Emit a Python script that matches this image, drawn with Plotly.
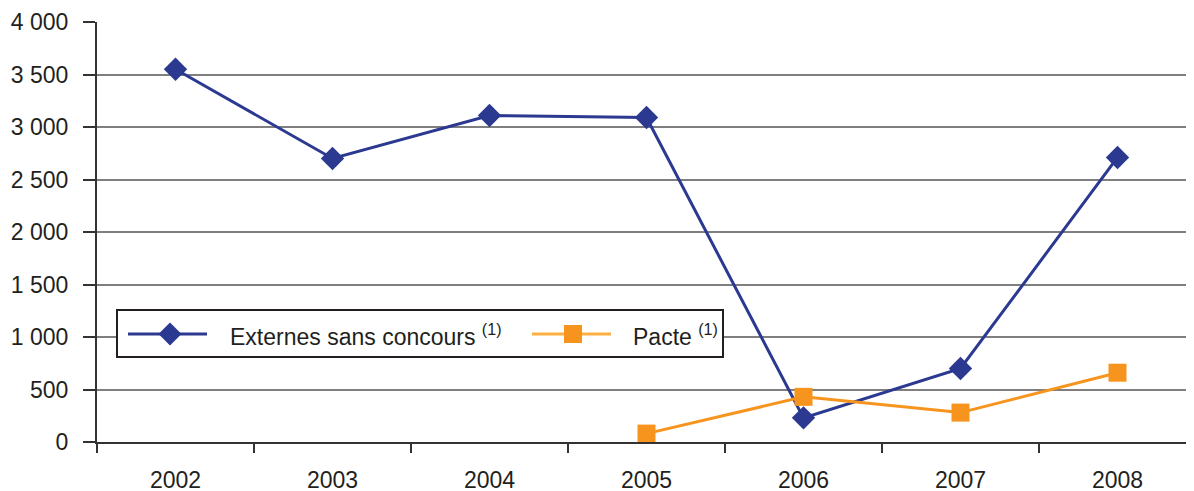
import plotly.graph_objects as go

years = ["2002", "2003", "2004", "2005", "2006", "2007", "2008"]
externes = [3550, 2700, 3110, 3090, 230, 700, 2710]
pacte_years = ["2005", "2006", "2007", "2008"]
pacte = [80, 430, 280, 660]
y_ticks = [0, 500, 1000, 1500, 2000, 2500, 3000, 3500, 4000]
y_tick_text = ["0", "500", "1 000", "1 500", "2 000", "2 500", "3 000", "3 500", "4 000"]
series_names = ["Externes sans concours", "Pacte"]

BLUE = "#2B3990"
ORANGE = "#F7941D"
ORANGE_LIGHT = "#FBB040"
TXT = "#231F20"
FS = 23

W, H = 1194, 491
OFF = 8  # page body offset
L, R, T, B = 97 - OFF, 6, 22 - OFF, 57
PW, PH = W - L - R, H - T - B
SX0, SY0 = 97, 442  # screen coords of plot origin


def px(x):
    return (x - SX0) / PW


def py(y):
    return (SY0 - y) / PH


fig = go.Figure()
fig.add_trace(go.Scatter(
    x=years, y=externes, mode="lines+markers", name=series_names[0],
    line=dict(color=BLUE, width=3),
    marker=dict(symbol="diamond", size=18, color=BLUE),
    showlegend=False,
))
fig.add_trace(go.Scatter(
    x=pacte_years, y=pacte, mode="lines+markers", name=series_names[1],
    line=dict(color=ORANGE, width=3),
    marker=dict(symbol="square", size=18, color=ORANGE),
    showlegend=False,
))

# manual legend (box, samples, labels)
shapes = []
annotations = []
shapes.append(dict(type="rect", xref="paper", yref="paper",
                   x0=px(117), x1=px(723), y0=py(357), y1=py(310),
                   fillcolor="white", line=dict(color="#231F20", width=2), layer="above"))
ly = 334
shapes.append(dict(type="line", xref="paper", yref="paper",
                   x0=px(128), x1=px(207), y0=py(ly), y1=py(ly),
                   line=dict(color=BLUE, width=3), layer="above"))
cx, r = 170, 11.5
shapes.append(dict(type="path", xref="paper", yref="paper",
                   path=f"M {px(cx - r)} {py(ly)} L {px(cx)} {py(ly - r)} L {px(cx + r)} {py(ly)} L {px(cx)} {py(ly + r)} Z",
                   fillcolor=BLUE, line=dict(color=BLUE, width=0), layer="above"))
shapes.append(dict(type="line", xref="paper", yref="paper",
                   x0=px(532), x1=px(611), y0=py(ly), y1=py(ly),
                   line=dict(color=ORANGE_LIGHT, width=3), layer="above"))
cx, r = 573, 9
shapes.append(dict(type="rect", xref="paper", yref="paper",
                   x0=px(cx - r), x1=px(cx + r), y0=py(ly + r), y1=py(ly - r),
                   fillcolor=ORANGE, line=dict(color=ORANGE, width=0), layer="above"))
for name, x0 in zip(series_names, [228, 631]):
    annotations.append(dict(xref="paper", yref="paper", x=px(x0), y=py(ly + 1),
                            xanchor="left", yanchor="middle", showarrow=False,
                            text=f"{name} <sup>(1)</sup>",
                            font=dict(size=FS, color=TXT)))

fig.update_layout(
    width=W, height=H,
    margin=dict(l=L, r=R, t=T, b=B),
    paper_bgcolor="white", plot_bgcolor="white",
    font=dict(family="Liberation Sans, Arial, sans-serif", size=FS, color=TXT),
    showlegend=False,
    shapes=shapes, annotations=annotations,
)
fig.update_xaxes(
    type="category", categoryorder="array", categoryarray=years,
    range=[-0.5, 6.5], automargin=False,
    showline=True, linecolor="#333333", linewidth=2,
    ticks="outside", tickson="boundaries", ticklen=9, tickcolor="#333333", tickwidth=2,
    showgrid=False, ticklabelstandoff=16,
    tickfont=dict(size=FS, color=TXT),
)
fig.update_yaxes(
    range=[0, 4000], tickvals=y_ticks, ticktext=y_tick_text, automargin=False,
    showline=True, linecolor="#333333", linewidth=2,
    ticks="outside", ticklen=12, tickcolor="#333333", tickwidth=2,
    showgrid=True, gridcolor="#7F7F7F", gridwidth=1.5,
    zeroline=False, ticklabelstandoff=10,
    tickfont=dict(size=FS, color=TXT),
)

fig.write_html("out.html")
